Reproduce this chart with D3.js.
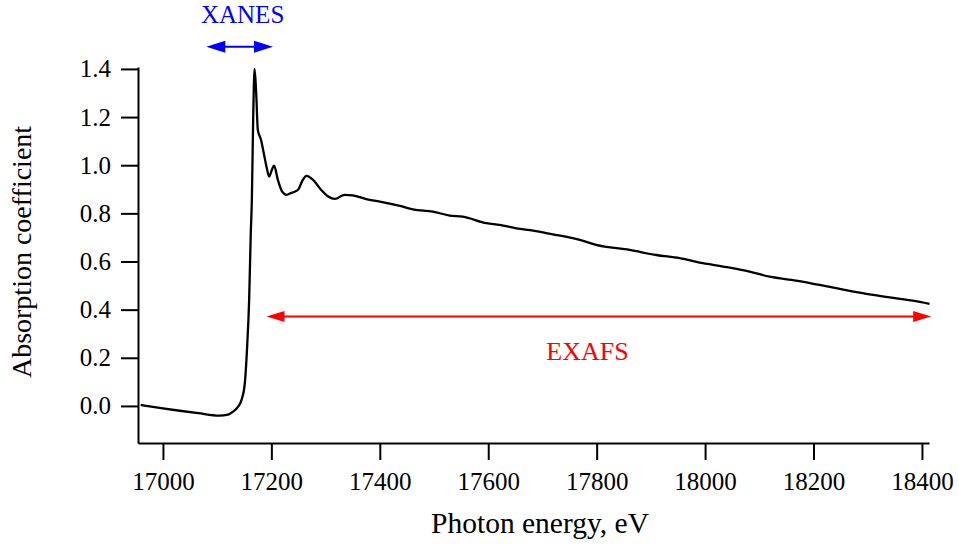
<!DOCTYPE html>
<html>
<head>
<meta charset="utf-8">
<script src="https://cdn.jsdelivr.net/npm/d3@7"></script>
<style>
  body { margin: 0; background: #fff; }
  svg text { font-family: "Palatino Linotype", "Book Antiqua", Palatino, "Liberation Serif", serif; }
</style>
</head>
<body>
<div id="chart"></div>
<script>
// spectrum
var energy = [16959, 17000, 17031, 17065, 17104, 17120, 17129, 17138, 17145, 17151, 17155, 17159,
  17162, 17164, 17166.5, 17169, 17172, 17175, 17181, 17186, 17191, 17196, 17200, 17205,
  17212, 17220, 17228, 17236, 17243, 17250, 17257, 17265, 17277, 17292, 17305, 17317,
  17335, 17350, 17375, 17400, 17437, 17461, 17498, 17529, 17553, 17597, 17621, 17652,
  17683, 17719, 17756, 17769, 17799, 17861, 17910, 17953, 17996, 18033, 18082, 18119,
  18168, 18242, 18310, 18383, 18414];
var absorption = [0.004, -0.010, -0.020, -0.030, -0.040, -0.036, -0.024, -0.005, 0.025, 0.094, 0.233, 0.440,
  0.717, 0.856, 1.200, 1.400, 1.300, 1.147, 1.105, 1.050, 0.994, 0.953, 0.975, 0.998,
  0.939, 0.890, 0.877, 0.884, 0.890, 0.900, 0.935, 0.956, 0.939, 0.897, 0.870, 0.860,
  0.877, 0.875, 0.859, 0.849, 0.831, 0.817, 0.807, 0.791, 0.786, 0.759, 0.752, 0.738,
  0.728, 0.713, 0.697, 0.690, 0.669, 0.648, 0.627, 0.614, 0.593, 0.579, 0.558, 0.537,
  0.521, 0.489, 0.461, 0.437, 0.424];

var xTicks = [17000, 17200, 17400, 17600, 17800, 18000, 18200, 18400];
var yTicks = [0.0, 0.2, 0.4, 0.6, 0.8, 1.0, 1.2, 1.4];

// region annotations: [start eV, end eV, level]
var xanesArrow = [17080, 17203, 1.492];
var exafsArrow = [17191, 18417, 0.371];
var xanesLabel = [17147, 1.589, "XANES"];
var exafsLabel = [17783, 0.191, "EXAFS"];

var width = 959, height = 544;
var margin = {top: 67, right: 30, bottom: 101, left: 138};

var svg = d3.select("#chart").append("svg")
    .attr("width", width)
    .attr("height", height);

var xScale = d3.scaleLinear()
    .domain([16954, 18413])
    .range([margin.left, width - margin.right]);

var yScale = d3.scaleLinear()
    .domain([-0.154, 1.408])
    .range([height - margin.bottom, margin.top]);

// axes
var xAxis = svg.append("g")
    .attr("transform", "translate(0," + (height - margin.bottom) + ")")
    .call(d3.axisBottom(xScale)
        .tickValues(xTicks)
        .tickFormat(d => String(d))
        .tickSize(17)
        .tickSizeOuter(0)
        .tickPadding(12));

var yAxis = svg.append("g")
    .attr("transform", "translate(" + margin.left + ",0)")
    .call(d3.axisLeft(yScale)
        .tickValues(yTicks)
        .tickFormat(d3.format(".1f"))
        .tickSize(17)
        .tickSizeOuter(0)
        .tickPadding(10));

[xAxis, yAxis].forEach(function(g) {
    g.select(".domain").attr("stroke", "#000").attr("stroke-width", 2);
    g.selectAll(".tick line").attr("stroke", "#000").attr("stroke-width", 2);
    g.selectAll(".tick text")
        .attr("fill", "#000")
        .style("font-size", "25px");
});

// axis titles
svg.append("text")
    .attr("x", 540)
    .attr("y", 533)
    .attr("text-anchor", "middle")
    .style("font-size", "29.5px")
    .text("Photon energy, eV");

svg.append("text")
    .attr("transform", "translate(31,252) rotate(-90)")
    .attr("text-anchor", "middle")
    .style("font-size", "28px")
    .text("Absorption coefficient");

// spectrum line
var line = d3.line()
    .x((d, i) => xScale(energy[i]))
    .y(d => yScale(d))
    .curve(d3.curveMonotoneX);

svg.append("path")
    .datum(absorption)
    .attr("fill", "none")
    .attr("stroke", "#000")
    .attr("stroke-width", 2.3)
    .attr("stroke-linejoin", "round")
    .attr("d", line);

// double headed arrows
function doubleArrow(a, color, lw, headLen, headHalf) {
    var x0 = xScale(a[0]), x1 = xScale(a[1]), y = yScale(a[2]);
    var g = svg.append("g");
    g.append("line")
        .attr("x1", x0 + headLen - 2).attr("x2", x1 - headLen + 2)
        .attr("y1", y).attr("y2", y)
        .attr("stroke", color)
        .attr("stroke-width", lw);
    g.append("path")
        .attr("d", "M" + x0 + "," + y + "L" + (x0 + headLen) + "," + (y - headHalf) +
                   "L" + (x0 + headLen) + "," + (y + headHalf) + "Z")
        .attr("fill", color);
    g.append("path")
        .attr("d", "M" + x1 + "," + y + "L" + (x1 - headLen) + "," + (y - headHalf) +
                   "L" + (x1 - headLen) + "," + (y + headHalf) + "Z")
        .attr("fill", color);
}
doubleArrow(xanesArrow, "#0000ff", 2, 19, 6);
doubleArrow(exafsArrow, "#ff0000", 2, 18, 5.5);

svg.append("text")
    .attr("x", xScale(xanesLabel[0]))
    .attr("y", yScale(xanesLabel[1]))
    .attr("text-anchor", "middle")
    .attr("fill", "#0000ff")
    .style("font-size", "25px")
    .text(xanesLabel[2]);

svg.append("text")
    .attr("x", xScale(exafsLabel[0]))
    .attr("y", yScale(exafsLabel[1]))
    .attr("text-anchor", "middle")
    .attr("fill", "#ff0000")
    .style("font-size", "26px")
    .text(exafsLabel[2]);
</script>
</body>
</html>
